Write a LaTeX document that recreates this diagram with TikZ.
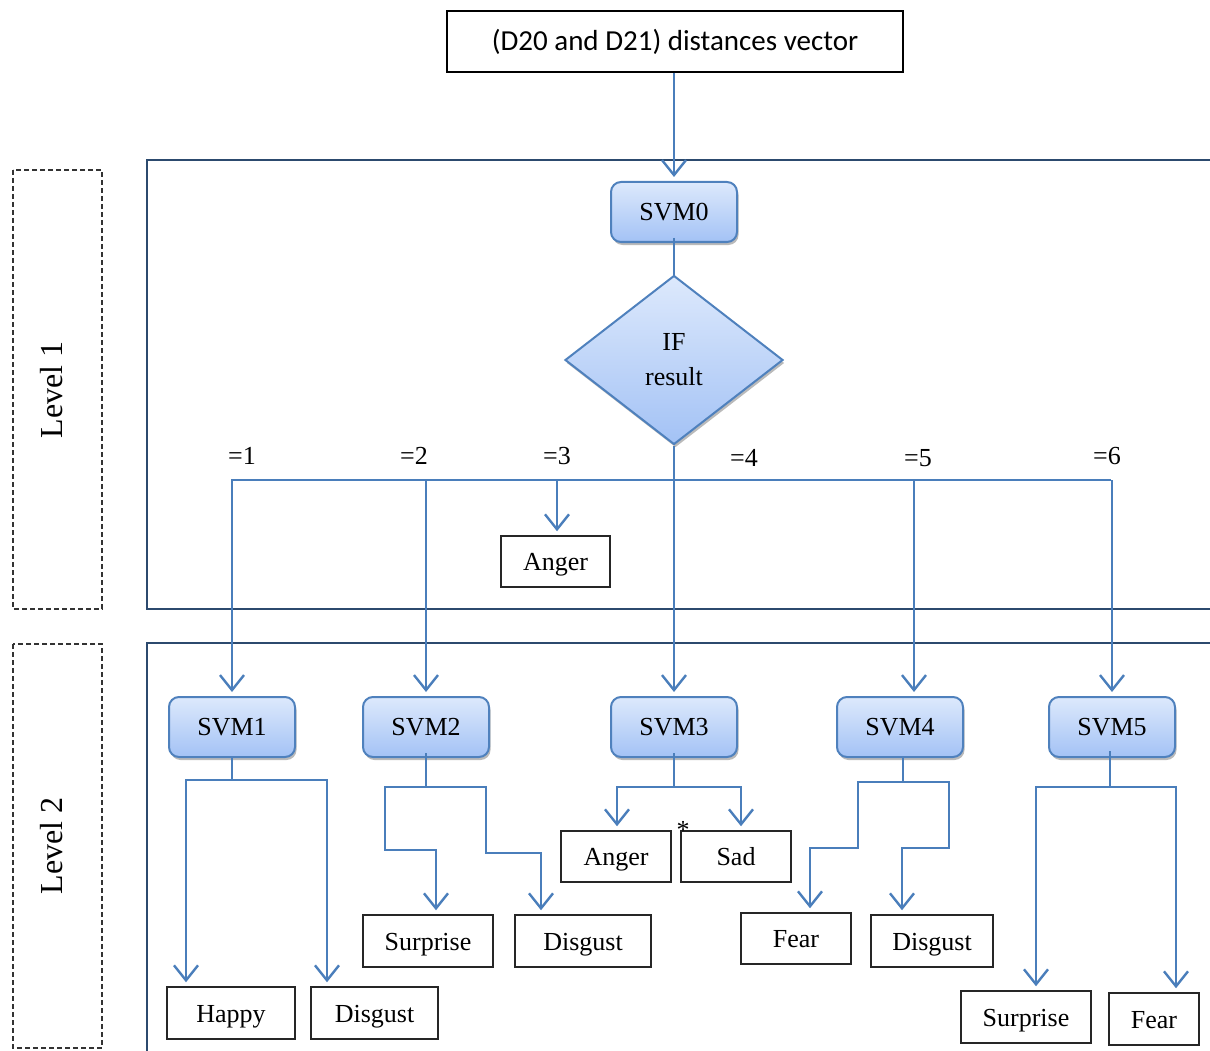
\documentclass[tikz,border=0pt]{standalone}
\usepackage{fontspec}
\setmainfont{Liberation Serif}
\newfontfamily\calib{Carlito}
\usetikzlibrary{arrows.meta,shapes.geometric,shadows}
\definecolor{lineblue}{HTML}{4A7EBB}
\definecolor{frameblue}{HTML}{2C4A6E}
\definecolor{svmtop}{HTML}{DDE9FC}
\definecolor{svmbot}{HTML}{A3C2F5}
\definecolor{svmborder}{HTML}{4F81BD}
\begin{document}
\begin{tikzpicture}[x=1pt,y=-1pt,
 conn/.style={draw=lineblue, line width=2.4pt},
 arr/.style={conn, shorten >=4pt, -{Straight Barb[length=15pt,width=24pt,line width=2.4pt]}},
 svm/.style={draw=svmborder, line width=2pt, rounded corners=10pt, top color=svmtop, bottom color=svmbot, minimum width=126pt, minimum height=60pt, drop shadow={shadow xshift=1.5pt, shadow yshift=-3pt, fill=black!45, opacity=0.6}, font=\fontsize{26}{30}\selectfont},
 res/.style={draw=black!85, line width=1.5pt, inner sep=0pt, text height=24pt, text depth=6pt, font=\fontsize{26}{30}\selectfont},
 lab/.style={font=\fontsize{26}{30}\selectfont, inner sep=0pt},
 lvl/.style={rotate=90, font=\fontsize{32}{36}\selectfont, inner sep=0pt},
 lvlbox/.style={draw=black!80, line width=1.2pt, dash pattern=on 5pt off 3pt},
 frame/.style={draw=frameblue, line width=2.4pt}
]
\useasboundingbox (0,0) rectangle (1210,1051);

% frames
\draw[frame] (1210,160) -- (147,160) -- (147,609) -- (1210,609);
\draw[frame] (1210,643) -- (147,643) -- (147,1051);
\draw[lvlbox] (13,170) rectangle (102,609);
\draw[lvlbox] (13,644) rectangle (102,1048);
\node[lvl] (lv1) at (52,390) {Level 1};
\node[lvl] (lv2) at (52,846) {Level 2};

% top
\node[draw=black, line width=1.5pt, minimum width=456pt, minimum height=61pt, inner sep=0pt, font=\calib\fontsize{29}{34}\selectfont] (top) at (675,41.5) {(D20 and D21) distances vector};
\node[svm] (svm0) at (674,212) {SVM0};
\node[diamond, draw=svmborder, line width=2pt, top color=svmtop, bottom color=svmbot, minimum width=218pt, minimum height=169pt, inner sep=0pt, align=center, drop shadow={shadow xshift=1.5pt, shadow yshift=-3pt, fill=black!45, opacity=0.6}, font=\fontsize{26}{35}\selectfont] (if) at (674,360) {IF\\result};

\draw[arr] (svm0.north |- top.south) -- (svm0.north);
\draw[conn] ([yshift=5pt]svm0.south) -- (if.north);

% level 1 bus
\coordinate (bus) at (674,480);
\coordinate (busL) at (231,480);
\coordinate (busR) at (1111,480);
\coordinate (b4) at (914,480);
\draw[conn] (if.south) -- (bus);
\draw[conn] (busL) -- (busR);

\node[lab] (e1) at (242,456) {=1};
\node[lab] (e2) at (414,456) {=2};
\node[lab] (e3) at (557,456) {=3};
\node[lab] (e4) at (744,458) {=4};
\node[lab] (e5) at (918,458) {=5};
\node[lab] (e6) at (1107,456) {=6};

\node[res, minimum width=109pt, minimum height=51pt] (anger1) at (555.5,561.5) {Anger};

% level 2 SVMs
\node[svm] (svm1) at (232,727) {SVM1};
\node[svm] (svm2) at (426,727) {SVM2};
\node[svm] (svm3) at (674,727) {SVM3};
\node[svm] (svm4) at (900,727) {SVM4};
\node[svm] (svm5) at (1112,727) {SVM5};

\draw[arr] (svm1.north |- bus) -- (svm1.north);
\draw[arr] (svm2.north |- bus) -- (svm2.north);
\draw[arr] ([xshift=1.5pt]anger1.north |- bus) -- ([xshift=1.5pt]anger1.north);
\draw[arr] (bus) -- (svm3.north);
\draw[arr] (b4) -- (b4 |- svm4.north);
\draw[arr] (svm5.north |- bus) -- (svm5.north);

% result boxes
\node[res, minimum width=128pt, minimum height=52pt] (happy) at (231,1013) {Happy};
\node[res, minimum width=127pt, minimum height=52pt] (dis1) at (374.5,1013) {Disgust};
\node[res, minimum width=130pt, minimum height=52pt] (sur1) at (428,941) {Surprise};
\node[res, minimum width=136pt, minimum height=52pt] (dis2) at (583,941) {Disgust};
\node[res, minimum width=110pt, minimum height=51pt] (anger2) at (616,856.5) {Anger};
\node[res, minimum width=110pt, minimum height=51pt] (sad) at (736,856.5) {Sad};
\node[lab] (ast) at (683,830) {*};
\node[res, minimum width=110pt, minimum height=51pt] (fear1) at (796,938.5) {Fear};
\node[res, minimum width=122pt, minimum height=52pt] (dis3) at (932,941) {Disgust};
\node[res, minimum width=130pt, minimum height=52pt] (sur2) at (1026,1017) {Surprise};
\node[res, minimum width=90pt, minimum height=52pt] (fear2) at (1154,1019) {Fear};

% SVM1 branches
\coordinate (j1) at (232,780);
\draw[conn] (svm1.south) -- (j1);
\draw[arr] (j1) -| ([xshift=-45pt]happy.north);
\draw[arr] (j1) -| ([xshift=-47.5pt]dis1.north);

% SVM2 branches
\coordinate (j2) at (426,787);
\draw[conn] ([yshift=5pt]svm2.south) -- (j2);
\draw[arr] (j2) -- (385,787) -- (385,850) -| ([xshift=8pt]sur1.north);
\draw[arr] (j2) -- (486,787) -- (486,853) -| ([xshift=-42pt]dis2.north);

% SVM3 branches
\coordinate (j3) at (674,787);
\draw[conn] ([yshift=5pt]svm3.south) -- (j3);
\draw[arr] (j3) -| ([xshift=1pt]anger2.north);
\draw[arr] (j3) -| ([xshift=5pt]sad.north);

% SVM4 branches
\coordinate (j4) at (903,782);
\draw[conn] ([xshift=3pt]svm4.south) -- (j4);
\draw[arr] (j4) -- (858,782) -- (858,848) -| ([xshift=14pt]fear1.north);
\draw[arr] (j4) -- (949,782) -- (949,848) -| ([xshift=-30pt]dis3.north);

% SVM5 branches
\coordinate (j5) at (1110,787);
\draw[conn] ([xshift=-2pt,yshift=7pt]svm5.south) -- (j5);
\draw[arr] (j5) -| ([xshift=10pt]sur2.north);
\draw[arr] (j5) -| ([xshift=22pt]fear2.north);
\end{tikzpicture}
\end{document}
